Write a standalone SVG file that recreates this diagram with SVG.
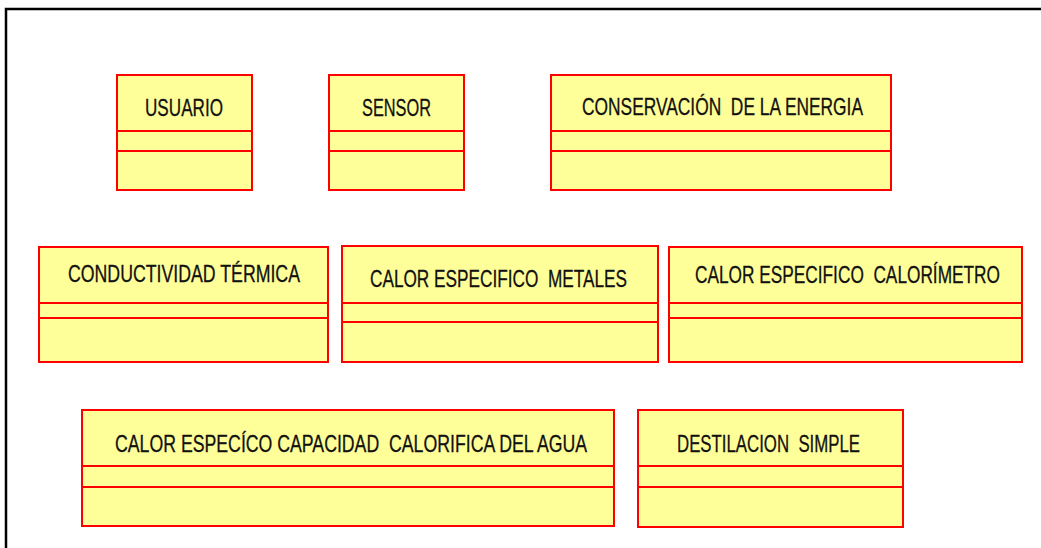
<svg xmlns="http://www.w3.org/2000/svg" width="1041" height="548" viewBox="0 0 1041 548">
<style>
.box{fill:#ffff99;stroke:#ff0000;stroke-width:2}
.div{stroke:#ff0000;stroke-width:2;fill:none}
.lbl{font-family:"Liberation Sans",Arial,sans-serif;font-size:24px;fill:#111;stroke:#111;stroke-width:0.3;white-space:pre}
.frame{stroke:#000;stroke-width:2.5;fill:none}
</style>
<rect width="1041" height="548" fill="#fff"/>
<path class="frame" d="M6 548 V9 H1041"/>
<g id="usuario">
<rect class="box" x="117" y="75" width="135" height="115"/>
<path class="div" d="M117 131 H252 M117 151 H252"/>
<text class="lbl" transform="translate(145 116) scale(0.72 1)" textLength="108.3" lengthAdjust="spacingAndGlyphs">USUARIO</text>
</g>
<g id="sensor">
<rect class="box" x="329" y="75" width="135" height="115"/>
<path class="div" d="M329 131 H464 M329 151 H464"/>
<text class="lbl" transform="translate(362 116) scale(0.72 1)" textLength="95.8" lengthAdjust="spacingAndGlyphs">SENSOR</text>
</g>
<g id="conservacion">
<rect class="box" x="551" y="75" width="340" height="115"/>
<path class="div" d="M551 131 H891 M551 151 H891"/>
<text class="lbl" transform="translate(582 115) scale(0.72 1)" textLength="390.3" lengthAdjust="spacingAndGlyphs" xml:space="preserve">CONSERVACIÓN  DE LA ENERGIA</text>
</g>
<g id="conductividad">
<rect class="box" x="39" y="247" width="289" height="115"/>
<path class="div" d="M39 303 H328 M39 318 H328"/>
<text class="lbl" transform="translate(68 282) scale(0.72 1)" textLength="322.2" lengthAdjust="spacingAndGlyphs">CONDUCTIVIDAD TÉRMICA</text>
</g>
<g id="metales">
<rect class="box" x="342" y="246" width="316" height="116"/>
<path class="div" d="M342 303 H658 M342 322 H658"/>
<text class="lbl" transform="translate(370 287) scale(0.72 1)" textLength="356.9" lengthAdjust="spacingAndGlyphs" xml:space="preserve">CALOR ESPECIFICO  METALES</text>
</g>
<g id="calorimetro">
<rect class="box" x="669" y="247" width="353" height="115"/>
<path class="div" d="M669 303 H1022 M669 318 H1022"/>
<text class="lbl" transform="translate(695 283) scale(0.72 1)" textLength="423.6" lengthAdjust="spacingAndGlyphs" xml:space="preserve">CALOR ESPECIFICO  CALORÍMETRO</text>
</g>
<g id="capacidad">
<rect class="box" x="82" y="410" width="532" height="116"/>
<path class="div" d="M82 466 H614 M82 487 H614"/>
<text class="lbl" transform="translate(115 452) scale(0.72 1)" textLength="655.6" lengthAdjust="spacingAndGlyphs" xml:space="preserve">CALOR ESPECÍCO CAPACIDAD  CALORIFICA DEL AGUA</text>
</g>
<g id="destilacion">
<rect class="box" x="638" y="410" width="265" height="117"/>
<path class="div" d="M638 466 H903 M638 487 H903"/>
<text class="lbl" transform="translate(677 452) scale(0.72 1)" textLength="254.2" lengthAdjust="spacingAndGlyphs" xml:space="preserve">DESTILACION  SIMPLE</text>
</g>
<g id="connectors"/>
</svg>
